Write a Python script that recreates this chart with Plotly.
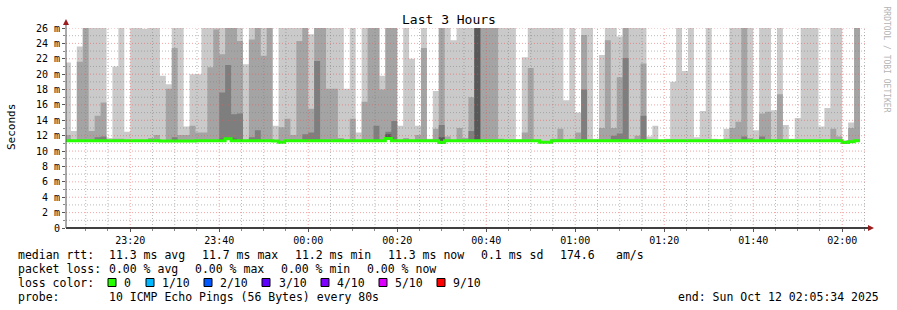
import pandas as pd
import plotly.graph_objects as go

# ---------------- data (80 s steps, values in ms; 27 = above top of chart) -------------
STEP_START = "2025-10-11 23:05:20"
N_STEPS = 134

# top of each smoke band (ping 10 = max, ping 9, ping 8, ping 7), None = no band
ping_max = [21.5, 12.6, 23.6, 27, 27, 27, 27, 11.7, 21.0, 27,
            12.5, 27, 27, 25.9, 27, 27, 19.8, 18.7, 27, 27,
            13.2, 20.0, 20.0, 27, 27, 27, 27, 27, 27, 27,
            21.3, 27, 27, 27, 27, 13.3, 27, 27, 27, 27,
            27, 25.2, 27, 27, 27, 27, 27, 18.1, 27, 12.4,
            27, 27, 27, 19.8, 27, 27, 13.3, 27, 22.0, 13.3,
            27, 11.6, 17.8, 27, 27, 24.4, 27, 27, 27, 27,
            27, 27, 27, 27, 27, 27, 11.5, 22.2, 27, 27,
            27, 27, 27, 27, 16.6, 27, 15.0, 27, 27, 11.6,
            22.5, 27, 27, 24.9, 27, 27, 27, 27, 11.9, 13.3,
            11.4, 11.6, 19.0, 27, 20.4, 27, 11.8, 15.2, 27, 11.6,
            11.5, 12.9, 27, 27, 27, 27, 12.7, 27, 27, 15.3,
            27, 13.4, 11.6, 14.3, 27, 27, 27, 13.2, 15.6, 27,
            27, 11.4, 13.7, 27]

ping_9 = [12.1, None, 21.6, 27, 12.6, 14.6, 16.3, None, 11.6, 11.6,
          None, None, None, None, 11.7, 12.1, None, 18.1, 23.4, 12.1,
          12.1, 13.3, 12.4, 12.4, 20.9, 25.8, 22.6, 27, 27, 24.3,
          None, 24.5, 27, 22.4, 27, None, 13.1, 14.2, 12.1, 24.3,
          27, 15.5, 27, 27, 18.1, 18.1, 11.7, None, 14.2, None,
          16.4, 27, 27, 18.0, 27, 27, None, 11.7, None, 12.1,
          23.4, None, 12.9, 27, 11.9, None, 13.0, 11.7, 17.0, 27,
          27, 27, 27, 11.6, None, None, None, 12.4, 20.8, None,
          None, None, 11.6, 12.9, None, 11.6, 12.4, 25.1, None, None,
          13.0, 24.4, 13.0, 19.6, 27, 11.6, 12.0, 21.4, None, None,
          None, None, None, None, None, None, None, None, None, None,
          None, 11.6, 13.0, 13.8, 27, 11.7, None, 14.9, 15.1, None,
          17.4, None, None, None, None, None, None, None, None, 12.9,
          11.9, None, 13.0, 27]

ping_8 = [None, None, None, None, None, 11.8, 11.9, None, None, None,
          None, None, None, None, None, None, None, None, 11.8, None,
          None, None, None, None, None, None, 17.6, 21.2, 14.8, 14.9,
          None, 11.8, 12.7, None, None, None, None, None, None, None,
          12.2, 12.4, 21.7, None, None, None, None, None, None, None,
          None, None, 13.3, None, 12.5, 13.9, None, None, None, None,
          None, None, None, 13.4, None, None, None, None, 12.6, 27,
          None, None, None, None, None, None, None, None, None, None,
          None, None, None, None, None, None, None, 18.0, None, None,
          None, None, 12.0, 12.3, 22.1, None, None, 14.6, None, None,
          None, None, None, None, None, None, None, None, None, None,
          None, None, None, None, 11.9, None, None, 11.9, None, None,
          None, None, None, None, None, None, None, None, None, None,
          None, None, None, None]

ping_7 = [None, None, None, None, None, None, None, None, None, None,
          None, None, None, None, None, None, None, None, None, None,
          None, None, None, None, None, None, 11.6, None, 11.6, None,
          None, None, None, None, None, None, None, None, None, None,
          None, None, None, None, None, None, None, None, None, None,
          None, None, None, None, 12.2, None, None, None, None, None,
          None, None, None, 11.8, None, None, None, None, None, 27,
          None, None, None, None, None, None, None, None, None, None,
          None, None, None, None, None, None, None, None, None, None,
          None, None, None, None, None, None, None, None, None, None,
          None, None, None, None, None, None, None, None, None, None,
          None, None, None, None, None, None, None, None, None, None,
          None, None, None, None, None, None, None, None, None, None,
          None, None, None, None]

median = [11.35, 11.35, 11.35, 11.35, 11.35, 11.35, 11.35, 11.35, 11.35, 11.35,
          11.35, 11.35, 11.35, 11.35, 11.35, 11.35, 11.3, 11.3, 11.3, 11.3,
          11.3, 11.3, 11.35, 11.35, 11.35, 11.35, 11.35, 11.6, 11.35, 11.35,
          11.35, 11.35, 11.35, 11.35, 11.35, 11.3, 11.15, 11.35, 11.35, 11.35,
          11.35, 11.35, 11.35, 11.35, 11.35, 11.35, 11.35, 11.35, 11.35, 11.35,
          11.35, 11.35, 11.35, 11.35, 11.65, 11.35, 11.35, 11.35, 11.35, 11.35,
          11.35, 11.35, 11.35, 11.1, 11.35, 11.35, 11.35, 11.35, 11.35, 11.35,
          11.35, 11.35, 11.35, 11.35, 11.35, 11.35, 11.35, 11.35, 11.35, 11.35,
          11.15, 11.15, 11.35, 11.35, 11.35, 11.35, 11.35, 11.35, 11.35, 11.35,
          11.35, 11.35, 11.35, 11.35, 11.35, 11.35, 11.35, 11.35, 11.35, 11.35,
          11.35, 11.35, 11.35, 11.35, 11.35, 11.35, 11.35, 11.35, 11.35, 11.35,
          11.35, 11.35, 11.35, 11.35, 11.35, 11.35, 11.35, 11.35, 11.35, 11.35,
          11.35, 11.35, 11.35, 11.35, 11.35, 11.35, 11.35, 11.35, 11.35, 11.35,
          11.35, 11.1, 11.2, 11.35]

smoke_colors = ["#cacaca", "#a4a4a4", "#7e7e7e", "#585858"]
loss_labels = ["0", "1/10", "2/10", "3/10", "4/10", "5/10", "9/10"]
loss_colors = ["#26ff00", "#00b8ff", "#0059ff", "#5e00ff", "#7e00ff", "#dd00ff", "#ff0000"]

y_tick_vals = list(range(0, 27, 2))
y_tick_text = ["0"] + [f"{v} m" for v in y_tick_vals[1:]]

X_START = "2025-10-11 23:05:34"
X_END = "2025-10-12 02:05:34"

stats_rtt = ["11.3 ms avg", "11.7 ms max", "11.2 ms min", "11.3 ms now", "0.1 ms sd", "174.6", "am/s"]
stats_loss = ["0.00 % avg", "0.00 % max", "0.00 % min", "0.00 % now"]

# ---------------- figure --------------------------------------------------------------
times = pd.date_range(STEP_START, periods=N_STEPS + 1, freq="80s")
xs = list(times)

FONT = "DejaVu Sans Mono"
fig = go.Figure()


def stepped(vals):
    return list(vals) + [vals[-1]]


for layer, col in zip([ping_max, ping_9, ping_8, ping_7], smoke_colors):
    top = [m if v is None else v for v, m in zip(layer, median)]
    fig.add_trace(go.Scatter(x=xs, y=stepped(median), mode="lines", line=dict(width=0, shape="hv"),
                             hoverinfo="skip", showlegend=False))
    fig.add_trace(go.Scatter(x=xs, y=stepped(top), mode="lines", line=dict(width=0, shape="hv"),
                             fill="tonexty", fillcolor=col, hoverinfo="skip", showlegend=False))

fig.add_trace(go.Scatter(x=xs, y=stepped(median), mode="lines",
                         line=dict(width=3, shape="hv", color=loss_colors[0]),
                         hoverinfo="skip", showlegend=False))

# plot-area geometry in pixels
L, R, T, B = 66, 867, 28, 228
W, H = 897, 310


def px(x):
    return (x - L) / (R - L)


def py(y):
    return (B - y) / (B - T)


shapes = []
MAJ = "rgba(235,90,90,0.55)"
MIN = "rgba(130,130,130,0.55)"
for v in range(1, 27):
    shapes.append(dict(type="line", xref="paper", yref="y", x0=0, x1=1, y0=v, y1=v, layer="above",
                       line=dict(color=MAJ if v % 2 == 0 else MIN, width=1, dash="1px,2px")))
grid_times = pd.date_range("2025-10-11 23:10:00", "2025-10-12 02:05:00", freq="5min")
for t in grid_times:
    major = t.minute % 20 == 0
    shapes.append(dict(type="line", xref="x", yref="paper", x0=t, x1=t, y0=0, y1=1, layer="above",
                       line=dict(color=MAJ if major else MIN, width=1, dash="1px,2px")))
# axes
shapes.append(dict(type="line", xref="paper", yref="paper", x0=0, x1=px(870), y0=0, y1=0,
                   layer="above", line=dict(color="#000000", width=1.5)))
shapes.append(dict(type="line", xref="paper", yref="paper", x0=0, x1=0, y0=0, y1=py(24),
                   layer="above", line=dict(color="#555555", width=1)))
ARROW = "#9b1c1c"
shapes.append(dict(type="path", xref="paper", yref="paper", layer="above", fillcolor=ARROW,
                   line=dict(width=0),
                   path=f"M {px(L-3)} {py(25)} L {px(L+3)} {py(25)} L {px(L)} {py(19)} Z"))
shapes.append(dict(type="path", xref="paper", yref="paper", layer="above", fillcolor=ARROW,
                   line=dict(width=0),
                   path=f"M {px(868)} {py(B-3)} L {px(868)} {py(B+3)} L {px(874)} {py(B)} Z"))

# legend boxes
box_x = [108, 146, 204, 262, 321, 379, 437]
text_x = [122, 160, 218, 277, 335, 393, 451]
for bx, c in zip(box_x, loss_colors):
    shapes.append(dict(type="rect", xref="paper", yref="paper", x0=px(bx), x1=px(bx + 8),
                       y0=py(278.5), y1=py(286.5), fillcolor=c, line=dict(color="#000000", width=1)))

ann = []


def text(x, y, s, size=11.5, anchor="left", color="#000000", angle=0):
    ann.append(dict(xref="paper", yref="paper", x=px(x), y=py(y), text=s, showarrow=False,
                    xanchor=anchor, yanchor="middle", textangle=angle,
                    font=dict(family=FONT, size=size, color=color)))


text(448.5, 19, "Last 3 Hours", size=13, anchor="center")
text(11, 127, "Seconds", size=11, anchor="center", angle=-90)
text(886.5, 59, "RRDTOOL / TOBI OETIKER", size=8, anchor="center", color="#b4b4b4", angle=90)

Y1, Y2, Y3, Y4 = 254.5, 268.5, 282.5, 296.5
text(16, Y1, "median rtt:")
for x, s in zip([107, 200, 293, 386, 479, 558, 614], stats_rtt):
    text(x, Y1, s)
text(16, Y2, "packet loss:")
for x, s in zip([107, 193, 279, 365], stats_loss):
    text(x, Y2, s)
text(16, Y3, "loss color:")
for x, s in zip(text_x, loss_labels):
    text(x, Y3, s)
text(16, Y4, "probe:")
text(107, Y4, "10 ICMP Echo Pings (56 Bytes) every 80s")
text(881, Y4, "end: Sun Oct 12 02:05:34 2025", anchor="right")

fig.update_layout(
    width=W, height=H, margin=dict(l=L, r=W - R, t=T, b=H - B, pad=0),
    paper_bgcolor="#ffffff", plot_bgcolor="#ffffff",
    font=dict(family=FONT, size=10, color="#000000"),
    shapes=shapes, annotations=ann, showlegend=False,
    xaxis=dict(type="date", range=[X_START, X_END], showgrid=False, zeroline=False, showline=False,
               tickformat="%H:%M", dtick=20 * 60 * 1000, tick0="2025-10-11 23:20:00",
               ticks="outside", ticklen=3, tickcolor="#555555",
               minor=dict(dtick=5 * 60 * 1000, ticks="outside", ticklen=2, tickcolor="#888888"),
               tickfont=dict(family=FONT, size=10, color="#000000"), fixedrange=True),
    yaxis=dict(range=[0, 26], showgrid=False, zeroline=False, showline=False,
               tickvals=y_tick_vals, ticktext=y_tick_text, ticks="outside", ticklen=3,
               tickcolor="#555555",
               minor=dict(dtick=1, ticks="outside", ticklen=2, tickcolor="#888888"),
               tickfont=dict(family=FONT, size=10, color="#000000"), fixedrange=True),
)

fig.write_html("out.html")
